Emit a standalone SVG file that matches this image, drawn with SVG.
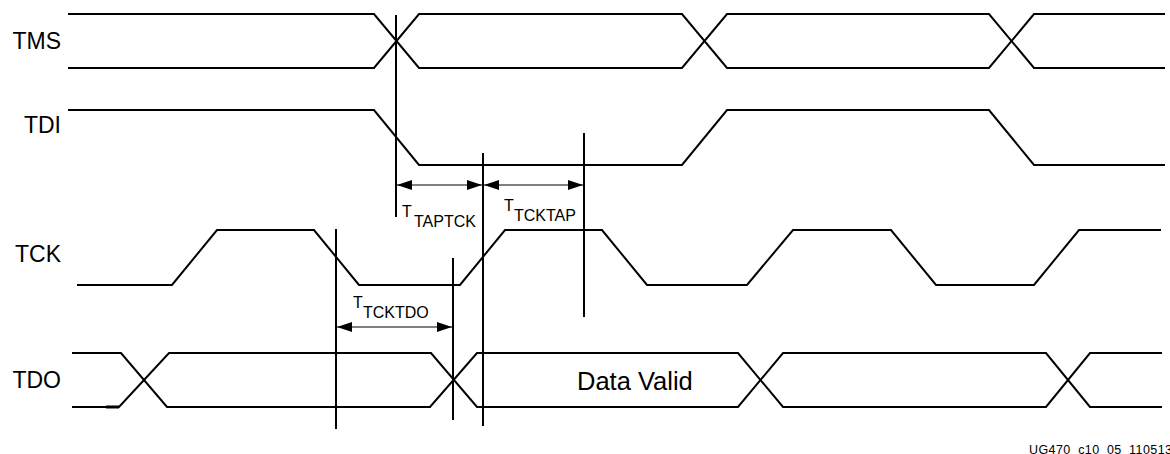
<svg xmlns="http://www.w3.org/2000/svg" width="1170" height="454" viewBox="0 0 1170 454">
<style>
.sig{fill:none;stroke:#000;stroke-width:2;stroke-linejoin:miter}
.mk{stroke:#000;stroke-width:2}
.dim{stroke:#000;stroke-width:1;fill:none;marker-start:url(#ah);marker-end:url(#ah)}
.lbl{font-family:"Liberation Sans",Arial,sans-serif;font-size:23px;fill:#000;text-anchor:end}
.t{font-family:"Liberation Sans",Arial,sans-serif;font-size:16px;fill:#000}
.dv{font-family:"Liberation Sans",Arial,sans-serif;font-size:25.5px;fill:#000}
.ft{font-family:"Liberation Sans",Arial,sans-serif;font-size:12.5px;fill:#000}
</style>
<defs>
<marker id="ah" viewBox="0 0 15 10" refX="15" refY="5" markerWidth="15" markerHeight="10" markerUnits="userSpaceOnUse" orient="auto-start-reverse">
<path d="M0,0 L15,5 L0,10 Z" fill="#000"/>
</marker>
</defs>
<rect width="1170" height="454" fill="#fff"/>
<g id="tms">
<text class="lbl" x="61" y="49">TMS</text>
<path class="sig" d="M68,14 H374 L419,68 H682 L727,14 H989 L1034,68 H1165"/>
<path class="sig" d="M68,68 H374 L419,14 H682 L727,68 H989 L1034,14 H1165"/>
</g>
<g id="tdi">
<text class="lbl" x="61" y="133">TDI</text>
<path class="sig" d="M68,110 H374 L419,165 H682 L727,110 H989 L1034,165 H1165"/>
</g>
<g id="tck">
<text class="lbl" x="61" y="262">TCK</text>
<path class="sig" d="M77,285 H172 L217,230 H314 L359,285 H460 L505,230 H602 L647,285 H747 L793,230 H891 L936,285 H1034 L1079,230 H1161"/>
</g>
<g id="tdo">
<text class="lbl" x="61" y="388">TDO</text>
<path class="sig" d="M72,353 H121 L167,407 H430 L477,353 H738 L783,407 H1046 L1090,353 H1162"/>
<path class="sig" d="M72,407 H119 L169,353 H431 L477,407 H738 L783,353 H1046 L1090,407 H1162"/>
<path d="M106,407 H119" stroke="#000" stroke-width="3"/>
<text class="dv" x="577" y="390">Data Valid</text>
</g>
<g id="connectors">
<line class="mk" x1="396" y1="15" x2="396" y2="217"/>
<line class="mk" x1="483" y1="153" x2="483" y2="426"/>
<line class="mk" x1="584" y1="133" x2="584" y2="317"/>
<line class="mk" x1="336" y1="229" x2="336" y2="429"/>
<line class="mk" x1="453" y1="258" x2="453" y2="420"/>
<line class="dim" x1="397" y1="185" x2="482" y2="185"/>
<line class="dim" x1="484" y1="185" x2="583" y2="185"/>
<line class="dim" x1="337" y1="327" x2="452" y2="327"/>
</g>
<g id="labels">
<text class="t" x="402" y="217">T<tspan x="414" y="227">TAPTCK</tspan></text>
<text class="t" x="504" y="211">T<tspan x="514" y="221">TCKTAP</tspan></text>
<text class="t" x="353" y="308">T<tspan x="363" y="318">TCKTDO</tspan></text>
<text class="ft" x="1029" y="453.5" textLength="143" lengthAdjust="spacing">UG470_c10_05_110513</text>
</g>
</svg>
